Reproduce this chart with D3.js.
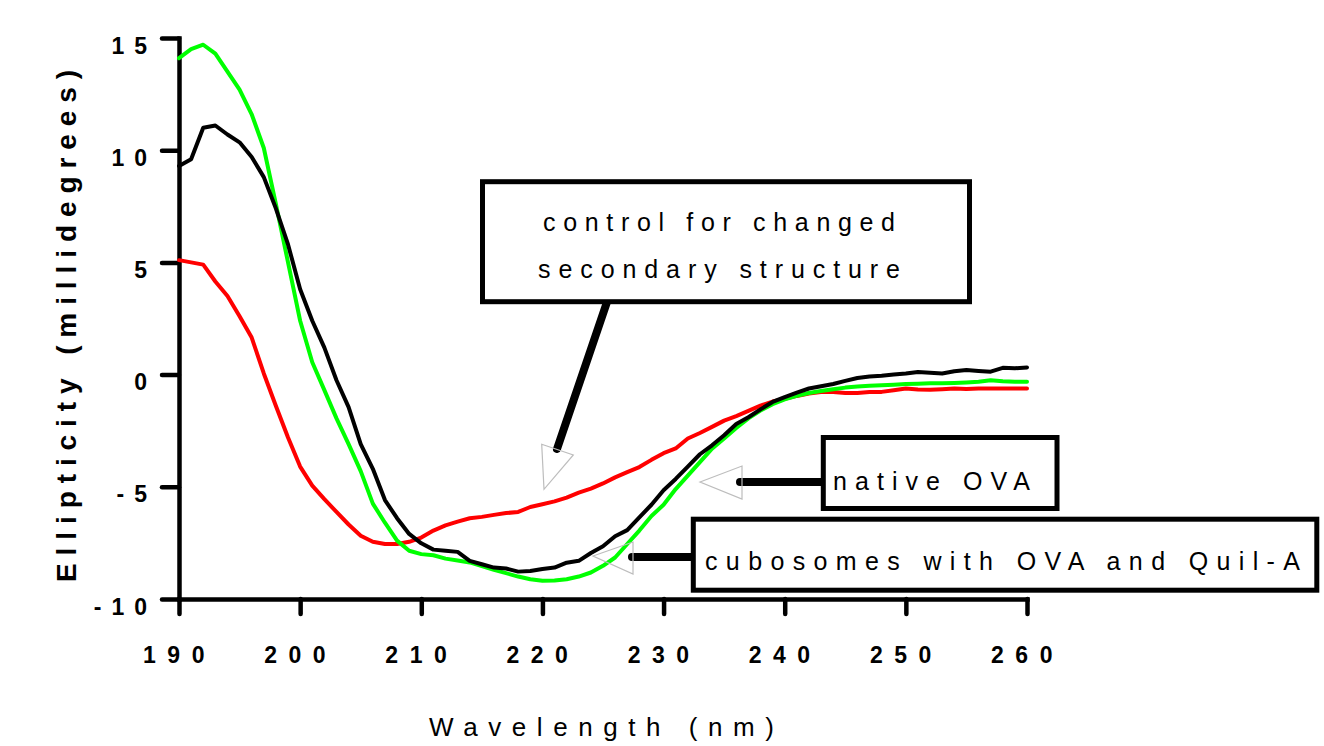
<!DOCTYPE html>
<html><head><meta charset="utf-8">
<script src="https://cdn.jsdelivr.net/npm/d3@7/dist/d3.min.js"></script>
<style>
body{margin:0;background:#fff;}
svg{display:block;}
text{font-family:"Liberation Sans", Arial, sans-serif;fill:#000;}
</style></head><body>
<svg id="chart" width="1324" height="746"></svg>
<script>
// ---- data ----
const wavelengths = [190,191,192,193,194,195,196,197,198,199,200,201,202,203,204,205,206,207,208,209,210,
  211,212,213,214,215,216,217,218,219,220,221,222,223,224,225,226,227,228,229,230,
  231,232,233,234,235,236,237,238,239,240,241,242,243,244,245,246,247,248,249,250,
  251,252,253,254,255,256,257,258,259,260];

// green trace
const nativeOVA = [14.1,14.5,14.7,14.3,13.5,12.7,11.6,10.1,7.6,5.0,2.4,
  0.55,-0.69,-1.95,-3.1,-4.3,-5.75,-6.6,-7.4,-7.85,-8.0,
  -8.05,-8.2,-8.28,-8.37,-8.53,-8.7,-8.85,-9.0,-9.12,-9.19,
  -9.18,-9.12,-9.0,-8.82,-8.52,-8.15,-7.55,-6.95,-6.3,-5.8,
  -5.1,-4.5,-3.9,-3.3,-2.85,-2.38,-1.95,-1.6,-1.32,-1.1,
  -0.95,-0.82,-0.73,-0.65,-0.58,-0.53,-0.5,-0.47,-0.45,-0.42,
  -0.41,-0.39,-0.38,-0.37,-0.35,-0.32,-0.25,-0.3,-0.32,-0.32];

// black trace
const cubosomesOVAQuilA = [9.3,9.6,11.0,11.1,10.7,10.35,9.7,8.8,7.4,5.8,3.8,
  2.4,1.2,-0.25,-1.45,-3.1,-4.2,-5.59,-6.4,-7.1,-7.52,
  -7.8,-7.85,-7.9,-8.3,-8.45,-8.6,-8.64,-8.78,-8.75,-8.66,
  -8.6,-8.38,-8.3,-7.95,-7.65,-7.2,-6.93,-6.36,-5.8,-5.15,
  -4.65,-4.1,-3.55,-3.15,-2.7,-2.2,-1.9,-1.55,-1.22,-1.0,
  -0.8,-0.62,-0.52,-0.42,-0.28,-0.15,-0.08,-0.05,0.0,0.05,
  0.12,0.08,0.05,0.15,0.2,0.16,0.13,0.3,0.28,0.32];

// red trace
const controlChanged = [5.1,5.0,4.9,4.15,3.5,2.6,1.65,0.05,-1.4,-2.8,-4.1,
  -4.95,-5.55,-6.12,-6.68,-7.18,-7.45,-7.55,-7.55,-7.45,-7.26,
  -6.95,-6.72,-6.55,-6.4,-6.34,-6.25,-6.17,-6.12,-5.9,-5.78,
  -5.65,-5.48,-5.26,-5.08,-4.85,-4.58,-4.35,-4.12,-3.8,-3.5,
  -3.29,-2.85,-2.6,-2.33,-2.05,-1.85,-1.62,-1.38,-1.2,-1.08,
  -0.95,-0.84,-0.78,-0.78,-0.82,-0.82,-0.78,-0.77,-0.7,-0.62,
  -0.66,-0.68,-0.65,-0.62,-0.64,-0.62,-0.62,-0.62,-0.62,-0.62];

const xTickValues = [190,200,210,220,230,240,250,260];
const yTickValues = [-10,-5,0,5,10,15];
const xAxisTitle = "Wavelength (nm)";
const yAxisTitle = "Ellipticity (millidegrees)";
const labelControl = ["control for changed", "secondary structure"];
const labelNative = "native OVA";
const labelCubo = "cubosomes with OVA and Quil-A";

// ---- chart ----
const svg = d3.select("#chart");
const x = d3.scaleLinear().domain([190, 260]).range([179, 1027]);
const y = d3.scaleLinear().domain([-10, 15]).range([599, 38]);

function fitSpacing(sel, target) {
  sel.attr("letter-spacing", 0);
  const node = sel.node();
  const w = node.getComputedTextLength();
  const n = node.getNumberOfChars();
  sel.attr("letter-spacing", (target - w) / (n - 1));
}

// axes
const fmt = d => String(d);
const yAxis = svg.append("g").attr("transform", "translate(179,0)")
  .call(d3.axisLeft(y).tickValues(yTickValues).tickSize(17).tickSizeOuter(0).tickFormat(fmt));
const xAxis = svg.append("g").attr("transform", "translate(0,599)")
  .call(d3.axisBottom(x).tickValues(xTickValues).tickSize(15).tickSizeOuter(0).tickFormat(fmt));

[yAxis, xAxis].forEach(g => {
  g.select(".domain").attr("stroke", "#000").attr("stroke-width", 4.5).attr("stroke-linecap", "square");
  g.selectAll(".tick line").attr("stroke", "#000").attr("stroke-width", 4.5).attr("stroke-linecap", "round");
  g.selectAll(".tick text").attr("font-family", "Liberation Sans, Arial, sans-serif")
    .attr("font-weight", "bold").attr("font-size", 23).attr("fill", "#000");
});
yAxis.selectAll(".tick text").attr("x", -22).attr("dy", 15).attr("letter-spacing", 10);
xAxis.selectAll(".tick text").attr("y", 64).attr("dy", 0).attr("letter-spacing", 11.5);

// curves
const line = d3.line().x((d, i) => x(wavelengths[i])).y(d => y(d));
const series = [
  {values: controlChanged, color: "#ff0000"},
  {values: nativeOVA, color: "#00ff00"},
  {values: cubosomesOVAQuilA, color: "#000000"}
];
svg.append("g").selectAll("path").data(series).join("path")
  .attr("d", d => line(d.values))
  .attr("fill", "none").attr("stroke", d => d.color)
  .attr("stroke-width", 4).attr("stroke-linejoin", "round").attr("stroke-linecap", "round");

// axis titles
const xt = svg.append("text").attr("x", 429).attr("y", 736)
  .attr("font-size", 26).text(xAxisTitle);
fitSpacing(xt, 345);
const yt = svg.append("text").attr("transform", "translate(76,582) rotate(-90)")
  .attr("font-size", 28).attr("font-weight", "bold").text(yAxisTitle);
fitSpacing(yt, 512);

// annotations
const ann = svg.append("g");
function connector(x1, y1, x2, y2) {
  ann.append("line").attr("x1", x1).attr("y1", y1).attr("x2", x2).attr("y2", y2)
    .attr("stroke", "#000").attr("stroke-width", 8).attr("stroke-linecap", "round");
}
function arrowHead(pts) {
  ann.append("polygon").attr("points", pts.map(p => p.join(",")).join(" "))
    .attr("fill", "none").attr("stroke", "#bdbdbd").attr("stroke-width", 1.2);
}
function box(x0, y0, x1, y1) {
  ann.append("rect").attr("x", x0).attr("y", y0).attr("width", x1 - x0).attr("height", y1 - y0)
    .attr("fill", "#fff").attr("stroke", "#000").attr("stroke-width", 5);
}
function label(txt, x0, x1, base, size) {
  const t = ann.append("text").attr("x", x0).attr("y", base).attr("font-size", size).text(txt);
  fitSpacing(t, x1 - x0);
}

// control
connector(607, 302, 557, 449);
arrowHead([[541.7, 444.3], [573.3, 455], [544, 489.3]]);
box(482.5, 181.7, 969.5, 301.7);
label(labelControl[0], 543, 895, 231, 25);
label(labelControl[1], 538, 900, 278, 25);

// native
connector(740, 482, 823, 482);
arrowHead([[700, 482], [742, 466], [742, 499]]);
box(823.3, 437.5, 1057, 508.5);
label(labelNative, 833, 1030, 490, 25);

// cubosomes
connector(632, 557, 693, 557);
arrowHead([[593, 556], [633, 542], [633, 574]]);
box(693.3, 519.2, 1316.8, 590.2);
label(labelCubo, 705, 1300, 570, 25);
</script>
</body></html>
